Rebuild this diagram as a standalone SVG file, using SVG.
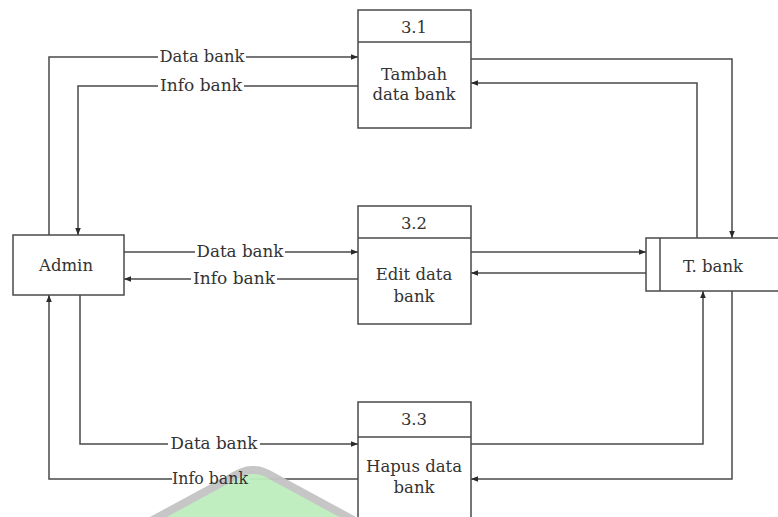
<svg xmlns="http://www.w3.org/2000/svg" width="778" height="517" viewBox="0 0 778 517">
  <style>
    .box { fill: #ffffff; stroke: #4a4a4a; stroke-width: 1.5; }
    .line { fill: none; stroke: #4a4a4a; stroke-width: 1.5; }
    .flow { fill: none; stroke: #4a4a4a; stroke-width: 1.5; marker-end: url(#arrow); }
    .txt { font-family: "DejaVu Serif", "Liberation Serif", serif; font-size: 16.5px; fill: #333333; text-anchor: middle; }
    .lbl { font-family: "DejaVu Serif", "Liberation Serif", serif; font-size: 16.5px; fill: #333333; text-anchor: middle; }
    .lblbg { fill: #ffffff; }
  </style>
  <defs>
    <marker id="arrow" viewBox="0 0 10 10" refX="10" refY="5" markerWidth="7" markerHeight="7" markerUnits="userSpaceOnUse" orient="auto">
      <path d="M0,1 L10,5 L0,9 Z" fill="#2a2a2a"/>
    </marker>
  </defs>
  <rect width="778" height="517" fill="#ffffff"/>

  <g id="connectors">
    <!-- Admin <-> 3.1 -->
    <polyline class="flow" points="49,235 49,57 358,57"/>
    <polyline class="flow" points="358,86 78,86 78,235"/>
    <!-- 3.1 <-> T. bank -->
    <polyline class="flow" points="471,59 732,59 732,238"/>
    <polyline class="flow" points="697,238 697,83 471,83"/>
    <!-- Admin <-> 3.2 -->
    <polyline class="flow" points="124,252 358,252"/>
    <polyline class="flow" points="358,279 124,279"/>
    <!-- 3.2 <-> T. bank -->
    <polyline class="flow" points="471,252 646,252"/>
    <polyline class="flow" points="646,273 471,273"/>
    <!-- Admin <-> 3.3 -->
    <polyline class="flow" points="80,295 80,444 358,444"/>
    <line class="line" x1="358" y1="479" x2="250" y2="479"/>
    <polyline class="flow" points="172,479 49,479 49,295"/>
    <!-- 3.3 <-> T. bank -->
    <polyline class="flow" points="471,444 703,444 703,291"/>
    <polyline class="flow" points="732,291 732,479 471,479"/>
  </g>

  <!-- background emblem at the bottom edge -->
  <path d="M138,528 L234,476 Q253,464 272,476 L368,528 Z" fill="#bdeebd" stroke="#c4c4c4" stroke-width="8" stroke-linejoin="round" opacity="0.95"/>

  <g id="labels">
    <rect class="lblbg" x="158" y="47" width="88" height="18"/>
    <text class="lbl" x="202" y="62" textLength="85" lengthAdjust="spacingAndGlyphs">Data bank</text>
    <rect class="lblbg" x="158" y="76" width="86" height="18"/>
    <text class="lbl" x="201" y="91" textLength="82" lengthAdjust="spacingAndGlyphs">Info bank</text>
    <rect class="lblbg" x="195" y="242" width="90" height="18"/>
    <text class="lbl" x="240" y="257" textLength="87" lengthAdjust="spacingAndGlyphs">Data bank</text>
    <rect class="lblbg" x="191" y="269" width="86" height="18"/>
    <text class="lbl" x="234" y="284" textLength="82" lengthAdjust="spacingAndGlyphs">Info bank</text>
    <rect class="lblbg" x="168" y="434" width="92" height="18"/>
    <text class="lbl" x="214" y="449" textLength="87" lengthAdjust="spacingAndGlyphs">Data bank</text>
    <text class="lbl" x="210" y="484" textLength="76" lengthAdjust="spacingAndGlyphs">Info bank</text>
  </g>

  <g id="admin">
    <rect class="box" x="13" y="235" width="111" height="60"/>
    <text class="txt" x="66" y="271">Admin</text>
  </g>

  <g id="p31">
    <rect class="box" x="358" y="10" width="113" height="118"/>
    <line class="box" x1="358" y1="42" x2="471" y2="42"/>
    <text class="txt" x="414" y="33">3.1</text>
    <text class="txt" x="414" y="80">Tambah</text>
    <text class="txt" x="414" y="100">data bank</text>
  </g>

  <g id="p32">
    <rect class="box" x="358" y="206" width="113" height="118"/>
    <line class="box" x1="358" y1="238" x2="471" y2="238"/>
    <text class="txt" x="414" y="229">3.2</text>
    <text class="txt" x="414" y="280">Edit data</text>
    <text class="txt" x="414" y="302">bank</text>
  </g>

  <g id="p33">
    <rect class="box" x="358" y="402" width="113" height="130"/>
    <line class="box" x1="358" y1="437" x2="471" y2="437"/>
    <text class="txt" x="414" y="425">3.3</text>
    <text class="txt" x="414" y="472">Hapus data</text>
    <text class="txt" x="414" y="493">bank</text>
  </g>

  <g id="tbank">
    <rect class="box" x="646" y="238" width="150" height="53"/>
    <line class="box" x1="660" y1="238" x2="660" y2="291"/>
    <text class="txt" x="713" y="272">T. bank</text>
  </g>
</svg>
